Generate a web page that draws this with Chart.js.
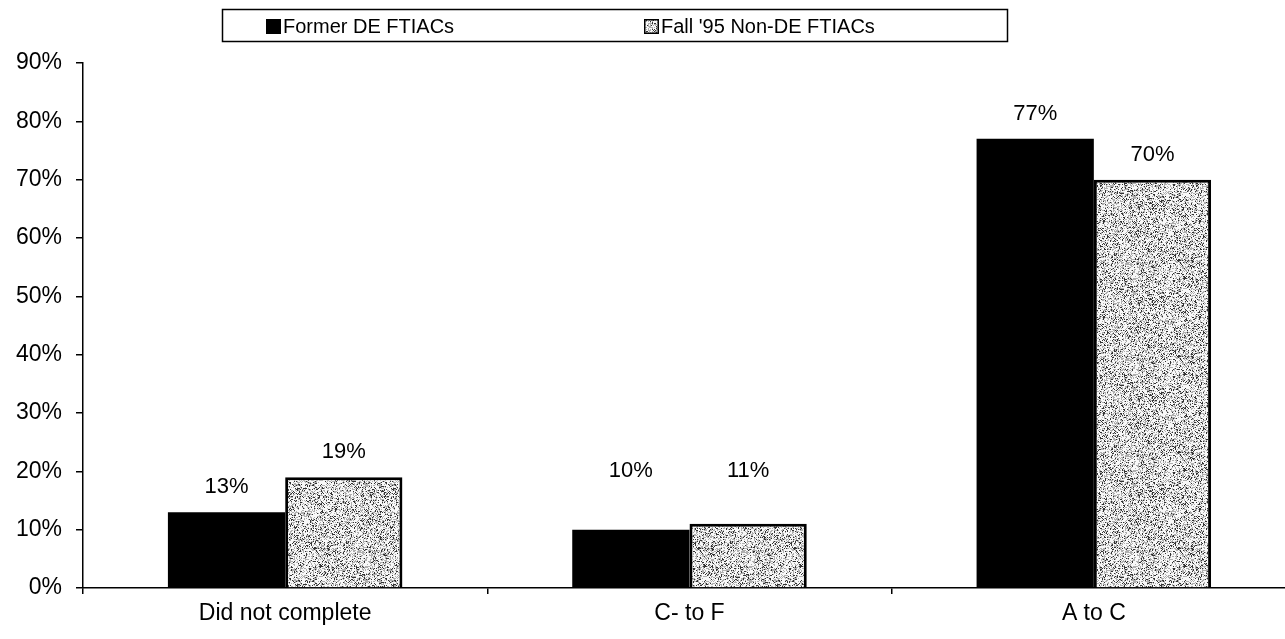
<!DOCTYPE html>
<html>
<head>
<meta charset="utf-8">
<script src="https://cdn.jsdelivr.net/npm/chart.js@4.4.1/dist/chart.umd.min.js"></script>
<style>
  html, body { margin: 0; padding: 0; background: #fff; overflow: hidden; }
  #wrap { width: 1285px; height: 639px; overflow: hidden; }
  canvas { display: block; }
</style>
</head>
<body>
<div id="wrap"><canvas id="c" width="1296" height="639"></canvas></div>
<script>
const categories = ['Did not complete', 'C- to F', 'A to C'];
const formerDE = [13, 10, 77];
const nonDE = [19, 11, 70];
const seriesNames = ['Former DE FTIACs', "Fall '95 Non-DE FTIACs"];
const yTicks = [0, 10, 20, 30, 40, 50, 60, 70, 80, 90];

const FONT = '"Liberation Sans", Arial, sans-serif';

// Speckled grey fill used for the second series
function makeStipple() {
  const size = 96;
  const cv = document.createElement('canvas');
  cv.width = size; cv.height = size;
  const g = cv.getContext('2d');
  const img = g.createImageData(size, size);
  let s = 12345;
  function rnd() { s = (s * 1103515245 + 12345) & 0x7fffffff; return s / 0x7fffffff; }
  for (let i = 0; i < size * size; i++) {
    const r = rnd();
    let v;
    if (r < 0.14) v = 50;
    else if (r < 0.45) v = 175;
    else v = 248;
    img.data[i * 4] = v; img.data[i * 4 + 1] = v; img.data[i * 4 + 2] = v; img.data[i * 4 + 3] = 255;
  }
  g.putImageData(img, 0, 0);
  return g.createPattern(cv, 'repeat');
}

const ctx = document.getElementById('c').getContext('2d');
const stipple = makeStipple();

// Value labels above each bar; the gap is set per category
const valueLabels = {
  id: 'valueLabels',
  afterDatasetsDraw(chart, args, opts) {
    const c = chart.ctx;
    c.save();
    c.font = '22px ' + FONT;
    c.fillStyle = '#000';
    c.textAlign = 'center';
    c.textBaseline = 'alphabetic';
    chart.data.datasets.forEach((ds, di) => {
      chart.getDatasetMeta(di).data.forEach((bar, i) => {
        const baseline = opts.baselines[i] != null
          ? opts.baselines[i]
          : bar.y - opts.gap;
        c.fillText(ds.data[i] + '%', bar.x, baseline);
      });
    });
    c.restore();
  }
};

// Boxed legend across the top
const boxLegend = {
  id: 'boxLegend',
  afterDraw(chart) {
    const c = chart.ctx;
    c.save();
    c.lineWidth = 1.5;
    c.strokeStyle = '#000';
    c.strokeRect(222.5, 9.5, 785, 32);
    c.font = '20px ' + FONT;
    c.textBaseline = 'middle';
    c.textAlign = 'left';
    const xs = [266, 644];
    chart.data.datasets.forEach((ds, di) => {
      const x = xs[di];
      c.fillStyle = ds.backgroundColor;
      c.fillRect(x, 19, 15, 15);
      if (di === 1) { c.lineWidth = 1.5; c.strokeRect(x + 0.75, 19.75, 13.5, 13.5); }
      c.fillStyle = '#000';
      c.fillText(ds.label, x + 17, 27);
    });
    c.restore();
  }
};

new Chart(ctx, {
  type: 'bar',
  data: {
    labels: categories,
    datasets: [
      { label: seriesNames[0], data: formerDE, backgroundColor: '#000', borderWidth: 0 },
      { label: seriesNames[1], data: nonDE, backgroundColor: stipple, borderColor: '#000', borderWidth: 3, borderSkipped: 'bottom' }
    ]
  },
  options: {
    responsive: false,
    animation: false,
    layout: { padding: { top: 63, right: 0, bottom: 0, left: 0 } },
    datasets: { bar: { categoryPercentage: 0.58, barPercentage: 1.0 } },
    plugins: {
      legend: { display: false },
      tooltip: { enabled: false },
      valueLabels: { gap: 19, baselines: [null, 477, null] }
    },
    scales: {
      x: {
        grid: { drawOnChartArea: false, tickLength: 6, color: '#000', lineWidth: 1.5 },
        border: { color: '#000', width: 1.5 },
        ticks: { color: '#000', font: { family: FONT, size: 23 }, padding: 6 },
        afterFit(scale) { scale.height = 51; }
      },
      y: {
        min: 0, max: 90,
        afterBuildTicks(scale) { scale.ticks = yTicks.map(v => ({ value: v })); },
        grid: { drawOnChartArea: false, tickLength: 7, color: '#000', lineWidth: 1.5 },
        border: { color: '#000', width: 1.5 },
        ticks: { color: '#000', font: { family: FONT, size: 23 }, padding: 14, callback: v => v + '%' },
        afterFit(scale) { scale.width = 83; }
      }
    }
  },
  plugins: [valueLabels, boxLegend]
});
</script>
</body>
</html>
